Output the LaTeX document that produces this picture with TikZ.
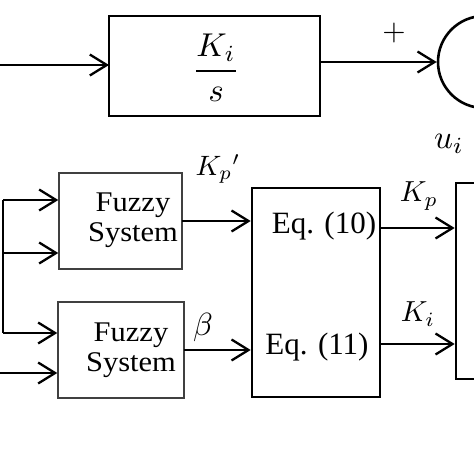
\documentclass[tikz,border=0pt]{standalone}
\usepackage{fontspec}
\setmainfont{Liberation Serif}
\newfontfamily\fzfont{Liberation Serif}[FakeStretch=1.07]
\usetikzlibrary{arrows.meta}
\begin{document}
\begin{tikzpicture}[x=1pt,y=-1pt,
  thickbox/.style={draw,line width=2.6pt,inner sep=0pt},
  fuzzybox/.style={draw=black!75,line width=1.4pt,inner sep=0pt},
  conn/.style={line width=2.3pt,-{Straight Barb[length=17pt,width=21pt,line width=2.3pt]}},
  wire/.style={line width=2.6pt},
  ftxt/.style={inner sep=0pt,align=center,font=\fzfont\fontsize{28.5}{29.5}\selectfont},
  etxt/.style={inner sep=0pt,font=\fontsize{31}{33}\selectfont},
  mtxt/.style={inner sep=0pt,font=\fontsize{10}{12}\selectfont,transform shape}]
\useasboundingbox (0,0) rectangle (474,474);
\begin{scope}
\clip (0,0) rectangle (474,474);
% top integrator box
\node[thickbox,minimum width=211pt,minimum height=100pt] (int) at (214.5,66) {};
\node[mtxt,scale=3.3] (frac) at (216,68) {$\displaystyle\frac{K_i}{s}$};
\coordinate (inL) at (0,65);
\coordinate (intL) at (109,65);
\coordinate (intR) at (320,62);
\node[draw,circle,line width=2.6pt,minimum size=92pt,inner sep=0pt] (sum) at (484,62) {};
\node[mtxt,scale=3] (plus) at (394,33) {$+$};
\node[mtxt,scale=3.3] (ui) at (449,144) {$u_i$};
\draw[conn] (inL) -- (intL);
\draw[conn] (intR) -- (sum.west);
% fuzzy systems
\node[fuzzybox,minimum width=123pt,minimum height=96pt] (fz1) at (120.5,221) {};
\node[ftxt] (fz1t) at (133,220) {Fuzzy\\System};
\node[fuzzybox,minimum width=126pt,minimum height=96pt] (fz2) at (121,350) {};
\node[ftxt] (fz2t) at (131,350) {Fuzzy\\System};
% eq box
\node[thickbox,minimum width=128pt,minimum height=209pt] (eq) at (316,292.5) {};
\node[etxt] (eq10) at (324,226) {Eq. (10)};
\node[etxt] (eq11) at (317,347) {Eq. (11)};
% right box
\node[thickbox,minimum width=60pt,minimum height=196pt] (rb) at (486,281) {};
% left bus
\coordinate (b1) at (3,200);
\coordinate (b2) at (3,253);
\coordinate (b3) at (3,333);
\coordinate (b4) at (0,373);
\draw[wire] (b1) -- (b3);
\draw[conn] (b1) -- (b1 -| fz1.west);
\draw[conn] (b2) -- (b2 -| fz1.west);
\draw[conn] (b3) -- (b3 -| fz2.west);
\draw[conn] (b4) -- (b4 -| fz2.west);
% fuzzy outputs
\coordinate (f1o) at (182,221);
\coordinate (f2o) at (184,350);
\draw[conn] (f1o) -- (f1o -| eq.west);
\draw[conn] (f2o) -- (f2o -| eq.west);
\node[mtxt,scale=2.8] (kpp) at (218,169) {$K_p{}'$};
\node[mtxt,scale=3.2] (beta) at (203,327) {$\beta$};
% eq outputs
\coordinate (e1o) at (380,228);
\coordinate (e2o) at (380,344);
\draw[conn] (e1o) -- (e1o -| rb.west);
\draw[conn] (e2o) -- (e2o -| rb.west);
\node[mtxt,scale=2.9] (kp) at (419,196) {$K_p$};
\node[mtxt,scale=2.9] (ki) at (418,314) {$K_i$};
\end{scope}
\end{tikzpicture}
\end{document}
